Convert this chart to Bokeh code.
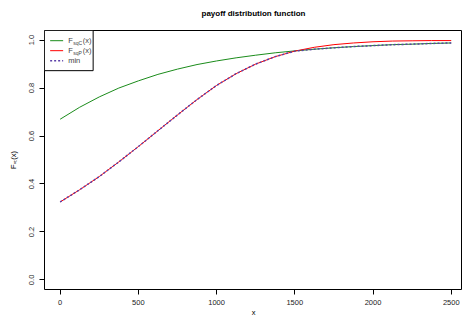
import numpy as np
from bokeh.plotting import figure
from bokeh.models import Range1d, FixedTicker, Label, Title
from bokeh.embed import file_html
from bokeh.resources import INLINE

# ---- data ----
x_vals = [0, 125, 250, 375, 500, 625, 750, 875, 1000, 1125, 1250, 1375, 1500,
          1625, 1750, 1875, 2000, 2125, 2250, 2375, 2500]
f_sqc = [0.670, 0.720, 0.763, 0.800, 0.830, 0.857, 0.879, 0.898, 0.913, 0.926, 0.937,
         0.947, 0.955, 0.962, 0.968, 0.973, 0.977, 0.981, 0.983, 0.986, 0.988]
f_sqp = [0.325, 0.376, 0.431, 0.492, 0.556, 0.622, 0.688, 0.752, 0.811, 0.860, 0.900,
         0.931, 0.954, 0.970, 0.981, 0.988, 0.993, 0.996, 0.997, 0.998, 0.998]
f_min = list(np.minimum(f_sqc, f_sqp))

x_ticks = [0, 500, 1000, 1500, 2000, 2500]
x_tick_labels = ["0", "500", "1000", "1500", "2000", "2500"]
y_ticks = [0.0, 0.2, 0.4, 0.6, 0.8, 1.0]
y_tick_labels = ["0.0", "0.2", "0.4", "0.6", "0.8", "1.0"]

title_text = "payoff distribution function"
x_label = "x"
y_label = "F\u2093\u209c(x)"
legend_names = [("F", "sqC", "(x)"), ("F", "sqP", "(x)"), ("min", "", "")]

GREEN = "#1b8c1b"
RED = "#ff0000"
PURPLE = "#5b3fa8"
FONT = "Liberation Sans"

p = figure(width=462, height=320, output_backend="svg", toolbar_location=None,
           x_range=Range1d(-100, 2572), y_range=Range1d(-0.04, 1.04),
           min_border_left=44, min_border_right=0, min_border_top=30, min_border_bottom=31)
p.xgrid.visible = False
p.ygrid.visible = False
p.outline_line_color = "black"
p.outline_line_width = 1
p.background_fill_color = "white"
p.border_fill_color = "white"

# spacer panel (closest to the frame), then the real title above it
p.add_layout(Title(text=" ", align="center", vertical_align="top",
                   text_font=FONT, text_font_size="8px", standoff=0), "above")
p.add_layout(Title(text=title_text, align="center", vertical_align="top",
                   text_font=FONT, text_font_style="bold", text_font_size="8px",
                   text_color="black", standoff=0), "above")

for ax in (p.xaxis[0], p.yaxis[0]):
    ax.axis_line_color = None
    ax.major_tick_line_color = "black"
    ax.major_tick_out = 5
    ax.major_tick_in = 0
    ax.minor_tick_line_color = None
    ax.major_label_text_font = FONT
    ax.major_label_text_font_size = "7.5px"
    ax.major_label_text_color = "#222222"
    ax.axis_label_text_font = FONT
    ax.axis_label_text_font_style = "normal"
    ax.axis_label_text_font_size = "7.5px"
    ax.axis_label_text_color = "black"

p.xaxis.ticker = FixedTicker(ticks=x_ticks)
p.xaxis.major_label_overrides = dict(zip(x_ticks, x_tick_labels))
p.xaxis.major_label_standoff = 5
p.xaxis.axis_label = x_label
p.xaxis.axis_label_standoff = 0

p.yaxis.ticker = FixedTicker(ticks=y_ticks)
p.yaxis.major_label_overrides = dict(zip(y_ticks, y_tick_labels))
p.yaxis.major_label_orientation = "vertical"
p.yaxis.major_label_standoff = 5
p.yaxis.axis_label = y_label
p.yaxis.axis_label_standoff = 9

# curves
p.line(x_vals, f_sqc, line_color=GREEN, line_width=1)
p.line(x_vals, f_sqp, line_color=RED, line_width=1)
p.line(x_vals, f_min, line_color=PURPLE, line_width=1.5, line_dash="2 2")

# helpers px -> data
def dx(px):
    return (px - 60) / 0.1564

def dy(py):
    return (279.4 - py) / 240.0

# legend box
p.quad(left=[-100], right=[dx(93)], top=[1.04], bottom=[dy(70)],
       fill_color="white", line_color="black", line_width=1)
colors = [GREEN, RED, PURPLE]
dashes = ["solid", "solid", "2 2"]
widths = [1, 1, 1.5]
rows_py = [40, 50, 60]
for (main, sub, tail), c, d, w, py in zip(legend_names, colors, dashes, widths, rows_py):
    p.line([dx(50), dx(63)], [dy(py), dy(py)], line_color=c, line_width=w, line_dash=d)
    p.add_layout(Label(x=dx(68), y=dy(py), text=main, text_align="left",
                       text_baseline="middle", text_font=FONT, text_font_size="7.5px"))
    if sub:
        p.add_layout(Label(x=dx(73), y=dy(py), y_offset=-2, text=sub, text_align="left",
                           text_baseline="middle", text_font=FONT, text_font_size="5px"))
        p.add_layout(Label(x=dx(82.5), y=dy(py), text=tail, text_align="left",
                           text_baseline="middle", text_font=FONT, text_font_size="7.5px"))

open("out.html", "w").write(file_html(p, INLINE))
